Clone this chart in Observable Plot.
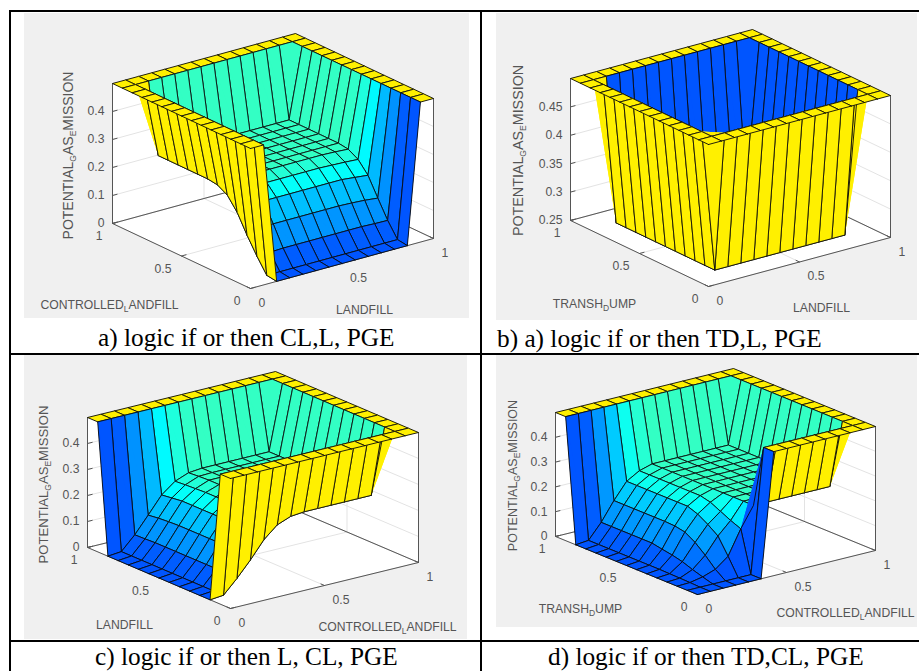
<!DOCTYPE html>
<html><head><meta charset="utf-8">
<script src="https://cdn.jsdelivr.net/npm/d3@7"></script>
<script src="https://cdn.jsdelivr.net/npm/@observablehq/plot@0.6"></script>
<style>
html,body{margin:0;padding:0;background:#fff;width:919px;height:671px;overflow:hidden}
.p{position:absolute}
.b{position:absolute;background:#000}
.c{position:absolute;font-family:"Liberation Serif",serif;font-size:25.3px;line-height:24px;white-space:nowrap;color:#000}
</style></head><body>
<script>
const zA=[
[.5,.5,0,0,0,0,0,0,0,0,0,0,0,.5,.5],
[.5,.5,.005,.005,.005,.005,.005,.005,.005,.005,.005,.005,.005,.5,.5],
[.5,.5,.057,.058,.06,.06,.06,.06,.06,.06,.06,.058,.057,.5,.5],
[.5,.5,.115,.125,.13,.13,.13,.13,.13,.13,.128,.125,.12,.5,.5],
[.5,.5,.18,.19,.195,.195,.195,.195,.195,.195,.195,.19,.185,.5,.5],
[.5,.5,.225,.23,.232,.232,.232,.232,.232,.232,.23,.228,.225,.5,.5],
[.5,.5,.245,.248,.25,.25,.25,.25,.25,.25,.25,.248,.245,.5,.5],
[.5,.5,.25,.25,.25,.25,.25,.25,.25,.25,.25,.25,.25,.5,.5],
[.5,.5,.25,.25,.25,.25,.25,.25,.25,.25,.25,.25,.25,.5,.5],
[.5,.5,.25,.25,.25,.25,.25,.25,.25,.25,.25,.25,.25,.5,.5],
[.5,.5,.25,.25,.25,.25,.25,.25,.25,.25,.25,.25,.25,.5,.5],
[.5,.5,.25,.25,.25,.25,.25,.25,.25,.25,.25,.25,.25,.5,.5],
[.5,.5,.25,.25,.25,.25,.25,.25,.25,.25,.25,.25,.25,.5,.5],
[.5,.5,.5,.5,.5,.5,.5,.5,.5,.5,.5,.5,.5,.5,.5],
[.5,.5,.5,.5,.5,.5,.5,.5,.5,.5,.5,.5,.5,.5,.5]];
const zB=[
[.5,.5,.5,.5,.5,.5,.5,.5,.5,.5,.5,.5,.5,.5,.5],
[.5,.5,.5,.5,.5,.5,.5,.5,.5,.5,.5,.5,.5,.5,.5],
[.5,.5,.25,.25,.25,.25,.25,.25,.25,.25,.25,.25,.25,.5,.5],
[.5,.5,.25,.25,.25,.25,.25,.25,.25,.25,.25,.25,.25,.5,.5],
[.5,.5,.25,.25,.25,.25,.25,.25,.25,.25,.25,.25,.25,.5,.5],
[.5,.5,.25,.25,.25,.25,.25,.25,.25,.25,.25,.25,.25,.5,.5],
[.5,.5,.25,.25,.25,.25,.25,.25,.25,.25,.25,.25,.25,.5,.5],
[.5,.5,.25,.25,.25,.25,.25,.25,.25,.25,.25,.25,.25,.5,.5],
[.5,.5,.25,.25,.25,.25,.25,.25,.25,.25,.25,.25,.25,.5,.5],
[.5,.5,.25,.25,.25,.25,.25,.25,.25,.25,.25,.25,.25,.5,.5],
[.5,.5,.25,.25,.25,.25,.25,.25,.25,.25,.25,.25,.25,.5,.5],
[.5,.5,.25,.25,.25,.25,.25,.25,.25,.25,.25,.25,.25,.5,.5],
[.5,.5,.25,.25,.25,.25,.25,.25,.25,.25,.25,.25,.25,.5,.5],
[.5,.5,.5,.5,.5,.5,.5,.5,.5,.5,.5,.5,.5,.5,.5],
[.5,.5,.5,.5,.5,.5,.5,.5,.5,.5,.5,.5,.5,.5,.5]];
const zC=[
[.5,.5,.5,.5,.5,.5,.5,.5,.5,.5,.5,.5,.5,.5,.5],
[.5,.5,.5,.5,.5,.5,.5,.5,.5,.5,.5,.5,.5,.5,.5],
[0,.005,.057,.115,.18,.225,.245,.25,.25,.25,.25,.25,.25,.5,.5],
[0,.005,.058,.125,.19,.23,.248,.25,.25,.25,.25,.25,.25,.5,.5],
[0,.005,.06,.13,.195,.232,.25,.25,.25,.25,.25,.25,.25,.5,.5],
[0,.005,.06,.13,.195,.232,.25,.25,.25,.25,.25,.25,.25,.5,.5],
[0,.005,.06,.13,.195,.232,.25,.25,.25,.25,.25,.25,.25,.5,.5],
[0,.005,.06,.13,.195,.232,.25,.25,.25,.25,.25,.25,.25,.5,.5],
[0,.005,.06,.13,.195,.232,.25,.25,.25,.25,.25,.25,.25,.5,.5],
[0,.005,.06,.13,.195,.232,.25,.25,.25,.25,.25,.25,.25,.5,.5],
[0,.005,.06,.128,.195,.23,.25,.25,.25,.25,.25,.25,.25,.5,.5],
[0,.005,.058,.125,.19,.228,.248,.25,.25,.25,.25,.25,.25,.5,.5],
[0,.005,.057,.12,.185,.225,.245,.25,.25,.25,.25,.25,.25,.5,.5],
[.5,.5,.5,.5,.5,.5,.5,.5,.5,.5,.5,.5,.5,.5,.5],
[.5,.5,.5,.5,.5,.5,.5,.5,.5,.5,.5,.5,.5,.5,.5]];
const zD=[
[0,0,0,0,0,0,.5,.5,.5,.5,.5,.5,.5,.5,.5],
[0,0,0,0,0,0,.5,.5,.5,.5,.5,.5,.5,.5,.5],
[0,.002,.012,.03,.07,.168,.25,.25,.25,.25,.25,.25,.25,.5,.5],
[0,.003,.025,.07,.135,.185,.25,.25,.25,.25,.25,.25,.25,.5,.5],
[0,.004,.04,.105,.165,.205,.25,.25,.25,.25,.25,.25,.25,.5,.5],
[0,.005,.05,.13,.19,.225,.25,.25,.25,.25,.25,.25,.25,.5,.5],
[0,.005,.057,.138,.205,.235,.25,.25,.25,.25,.25,.25,.25,.5,.5],
[0,.005,.065,.14,.205,.235,.25,.25,.25,.25,.25,.25,.25,.5,.5],
[0,.005,.065,.14,.205,.235,.25,.25,.25,.25,.25,.25,.25,.5,.5],
[0,.005,.065,.14,.205,.235,.25,.25,.25,.25,.25,.25,.25,.5,.5],
[0,.005,.065,.14,.205,.235,.25,.25,.25,.25,.25,.25,.25,.5,.5],
[0,.005,.065,.14,.205,.235,.25,.25,.25,.25,.25,.25,.25,.5,.5],
[0,.005,.065,.14,.205,.235,.25,.25,.25,.25,.25,.25,.25,.5,.5],
[.5,.5,.5,.5,.5,.5,.5,.5,.5,.5,.5,.5,.5,.5,.5],
[.5,.5,.5,.5,.5,.5,.5,.5,.5,.5,.5,.5,.5,.5,.5]];

const gridAxis=[0,1/14,2/14,3/14,4/14,5/14,6/14,7/14,8/14,9/14,10/14,11/14,12/14,13/14,1];
const horizontalTicks=[0,0.5,1];
const horizontalLabels=["0","0.5","1"];
const zTicksLow=[0,0.1,0.2,0.3,0.4];
const zLabelsLow=["0","0.1","0.2","0.3","0.4"];
const zTicksHigh=[0.25,0.3,0.35,0.4,0.45];
const zLabelsHigh=["0.25","0.3","0.35","0.4","0.45"];
const colorStops=[0,0.02,0.12,0.26,0.38,0.5,1];
const colorRange=["#0055ff","#0064ff","#0095ff","#00c0ff","#00ffff","#33ffc4","#fff000"];
const zTitle="POTENTIAL_GAS_EMISSION";

const panels=[
 {z:zA,box:[24,13,469,318],o:[250,288],ex:[183,-50],ey:[-138,-65],ez:140,zr:[0,.5],zt:zTicksLow,zl:zLabelsLow,
  yTitle:["CONTROLLED_LANDFILL",109,305],xTitle:["LANDFILL",364,310],zPos:[68,155],zSize:14,
  cap:["a) logic if or then CL,L, PGE",98,325]},
 {z:zB,box:[496,13,917,320],o:[708,286],ex:[182,-49],ey:[-138,-66],ez:142,zr:[.25,.5],zt:zTicksHigh,zl:zLabelsHigh,
  yTitle:["TRANSH_DUMP",594,304],xTitle:["LANDFILL",821,308],zPos:[518,150],zSize:14.3,
  cap:["b) a) logic if or then TD,L, PGE",497,326]},
 {z:zC,box:[24,355,467,639],o:[230,608],ex:[188,-46],ey:[-143,-61],ez:130,zr:[0,.5],zt:zTicksLow,zl:zLabelsLow,
  yTitle:["LANDFILL",124,625],xTitle:["CONTROLLED_LANDFILL",387,627],zPos:[43,484],zSize:13.1,
  cap:["c) logic if or then L, CL, PGE",95,644]},
 {z:zD,box:[496,355,917,627],o:[697,594],ex:[178,-44],ey:[-142,-58],ez:124,zr:[0,.5],zt:zTicksLow,zl:zLabelsLow,
  yTitle:["TRANSH_DUMP",580,609],xTitle:["CONTROLLED_LANDFILL",845,613],zPos:[512,475],zSize:12.5,
  cap:["d) logic if or then TD,CL, PGE",548,644]}
];

function addBar(l,t,w,h){const d=document.createElement("div");d.className="b";d.style.cssText=`left:${l}px;top:${t}px;width:${w}px;height:${h}px`;document.body.append(d);}
addBar(9,10,910,2);addBar(9,10,2,661);addBar(480,10,2,661);addBar(9,353,910,2);addBar(9,640,910,2);

function subscripts(svg){
  svg.querySelectorAll("text").forEach(t=>{
    const s=t.textContent; if(!s.includes("_"))return;
    const parts=s.split("_"); t.textContent="";
    parts.forEach((p,k)=>{
      const ns="http://www.w3.org/2000/svg";
      if(k===0){const a=document.createElementNS(ns,"tspan");a.textContent=p;t.append(a);return;}
      const a=document.createElementNS(ns,"tspan");a.textContent=p[0];a.setAttribute("font-size","8.5");a.setAttribute("dy","3");t.append(a);
      const b=document.createElementNS(ns,"tspan");b.textContent=p.slice(1);b.setAttribute("dy","-3");t.append(b);
    });
  });
}

panels.forEach((P,idx)=>{
  const [L,T,R,B]=P.box;
  const span=P.zr[1]-P.zr[0];
  const px=(x,y,z)=>P.o[0]+x*P.ex[0]+y*P.ey[0];
  const py=(x,y,z)=>P.o[1]+x*P.ex[1]+y*P.ey[1]-(z-P.zr[0])/span*P.ez;
  const poly=(rows,id,extra={})=>rows.map(([x,y,z])=>({id,X:px(x,y,z),Y:py(x,y,z),...extra}));

  const z0=P.zr[0],z1=P.zr[1];
  const walls=[
    ...poly([[0,0,z0],[1,0,z0],[1,1,z0],[0,1,z0],[0,0,z0]],"floor"),
    ...poly([[0,1,z0],[1,1,z0],[1,1,z1],[0,1,z1],[0,1,z0]],"wallY"),
    ...poly([[1,0,z0],[1,1,z0],[1,1,z1],[1,0,z1],[1,0,z0]],"wallX")
  ];
  const grid=[];
  P.zt.forEach((v,k)=>grid.push(...poly([[0,1,v],[1,1,v],[1,0,v]],"gz"+k)));
  horizontalTicks.forEach((v,k)=>{
    grid.push(...poly([[v,0,z0],[v,1,z0],[v,1,z1]],"gx"+k));
    grid.push(...poly([[0,v,z0],[1,v,z0],[1,v,z1]],"gy"+k));
  });
  const edges=[
    ...poly([[0,1,z1],[0,1,z0],[0,0,z0],[1,0,z0],[1,0,z1]],"front"),
    ...poly([[0,1,z0],[1,1,z0],[1,0,z0]],"back")
  ];
  P.zt.forEach((v,k)=>edges.push(...poly([[0,1,v],[.025,1,v]],"tz"+k)));
  horizontalTicks.forEach((v,k)=>{
    edges.push(...poly([[v,0,z0],[v,.025,z0]],"tx"+k));
    edges.push(...poly([[0,v,z0],[.025,v,z0]],"ty"+k));
  });
  const order=[];
  for(let i=0;i<14;i++)for(let j=0;j<14;j++)order.push([i,j]);
  order.sort((a,b)=>(b[0]+b[1])-(a[0]+a[1]));
  const cells=[];
  order.forEach(([i,j])=>{
    const t=(P.z[j][i]-z0)/span;
    const v=([a,b])=>[gridAxis[a],gridAxis[b],P.z[b][a]];
    const A=v([i,j]),Bv=v([i+1,j]),C=v([i+1,j+1]),D=v([i,j+1]);
    const id=`c${i}_${j}`;
    cells.push(...poly([A,Bv,C,D],id+"q",{t,fo:1,so:0}));
    cells.push(...poly([A,Bv,D],id+"a",{t,fo:1,so:0}));
    cells.push(...poly([Bv,C,D],id+"b",{t,fo:1,so:0}));
    cells.push(...poly([A,Bv,C,D,A],id+"o",{t,fo:0,so:1}));
  });
  const xLab=horizontalTicks.map((v,k)=>({X:px(v,0,z0)+8,Y:py(v,0,z0)+14.5,s:horizontalLabels[k]}));
  const yLab=horizontalTicks.map((v,k)=>({X:px(0,v,z0)-10,Y:py(0,v,z0)+13,s:horizontalLabels[k]}));
  const zLab=P.zt.map((v,k)=>({X:px(0,1,v)-8,Y:py(0,1,v),s:P.zl[k]}));
  const titles=[P.yTitle,P.xTitle].map(([s,X,Y])=>({s,X,Y}));
  const common={fontSize:12.2,fill:"#555"};
  const chart=Plot.plot({
    width:R-L,height:B-T,margin:0,
    x:{domain:[L,R],axis:null},y:{domain:[B,T],axis:null},
    color:{type:"linear",domain:colorStops,range:colorRange},
    style:{background:"#f0f0f0",fontFamily:"'Liberation Sans',Arial,sans-serif"},
    marks:[
      Plot.line(walls,{x:"X",y:"Y",z:"id",fill:"white",stroke:"none"}),
      Plot.line(grid,{x:"X",y:"Y",z:"id",stroke:"#e3e3e3",strokeWidth:1,fill:"none"}),
      Plot.line(edges,{x:"X",y:"Y",z:"id",stroke:"#555",strokeWidth:1,fill:"none"}),
      Plot.line(cells,{x:"X",y:"Y",z:"id",fill:"t",fillOpacity:"fo",stroke:"#0a0a0a",strokeOpacity:"so",strokeWidth:.9}),
      Plot.text(xLab,{x:"X",y:"Y",text:"s",textAnchor:"start",...common}),
      Plot.text(yLab,{x:"X",y:"Y",text:"s",textAnchor:"end",...common}),
      Plot.text(zLab,{x:"X",y:"Y",text:"s",textAnchor:"end",...common}),
      Plot.text(titles,{x:"X",y:"Y",text:"s",...common}),
      Plot.text([{s:zTitle,X:P.zPos[0],Y:P.zPos[1]}],{x:"X",y:"Y",text:"s",rotate:-90,fill:"#555",fontSize:P.zSize})
    ]
  });
  subscripts(chart);
  const w=document.createElement("div");w.className="p";w.style.left=L+"px";w.style.top=T+"px";w.append(chart);
  document.body.append(w);
  const c=document.createElement("div");c.className="c";c.textContent=P.cap[0];c.style.left=P.cap[1]+"px";c.style.top=P.cap[2]+"px";
  document.body.append(c);
});
</script>
</body></html>
